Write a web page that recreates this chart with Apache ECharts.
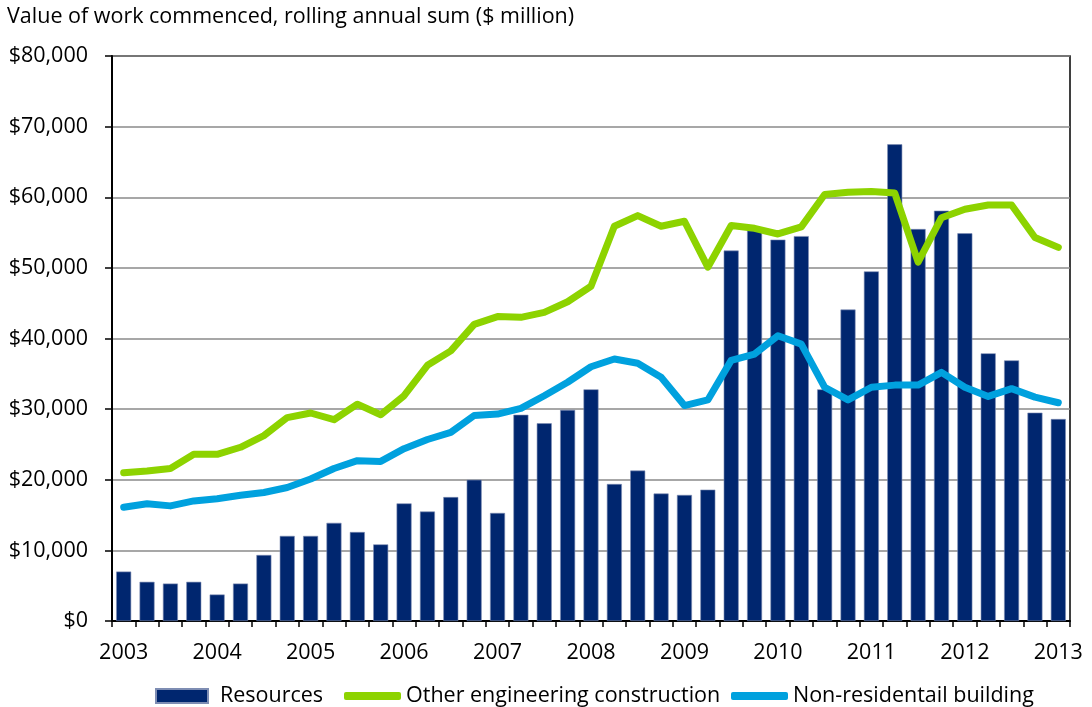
<!DOCTYPE html>
<html>
<head>
<meta charset="utf-8">
<script src="https://cdn.jsdelivr.net/npm/echarts@6/dist/echarts.min.js"></script>
<style>
  html, body { margin: 0; padding: 0; background: #fff; }
  #chart { width: 1092px; height: 707px; }
</style>
</head>
<body>
<div id="chart"></div>
<script>
// Quarterly categories, 2003 Q1 .. 2013 Q1
const categories = [];
for (let y = 2003; y <= 2013; y++) {
  for (let q = 1; q <= 4; q++) {
    if (y === 2013 && q > 1) break;
    categories.push(y + '-Q' + q);
  }
}
const yearLabels = ['2003','2004','2005','2006','2007','2008','2009','2010','2011','2012','2013'];

const resources = [
  7000, 5550, 5300, 5550, 3750, 5300, 9350, 12050, 12050, 13900,
  12600, 10850, 16650, 15500, 17550, 20000, 15300, 29200, 28000, 29900,
  32800, 19400, 21300, 18050, 17850, 18600, 52450, 55300, 54000, 54500,
  32800, 44100, 49500, 67500, 55500, 58100, 54900, 37900, 36900, 29500,
  28600
];
const otherEngineering = [
  21000, 21250, 21600, 23600, 23600, 24600, 26250, 28800, 29450, 28500,
  30700, 29200, 31900, 36200, 38250, 42000, 43100, 43000, 43700, 45200,
  47400, 55900, 57400, 55900, 56600, 50100, 56000, 55600, 54800, 55800,
  60400, 60700, 60800, 60600, 50800, 57100, 58300, 58900, 58900, 54300,
  52900
];
const nonResidential = [
  16100, 16600, 16300, 17000, 17300, 17800, 18200, 18900, 20100, 21600,
  22700, 22600, 24400, 25700, 26700, 29100, 29300, 30100, 31900, 33800,
  36000, 37100, 36500, 34500, 30500, 31300, 36900, 37800, 40400, 39200,
  33100, 31300, 33100, 33400, 33400, 35200, 33100, 31800, 32900, 31700,
  30900
];

const FONT = "'Open Sans', 'Noto Sans', sans-serif";
const FS = 21.5;
const chart = echarts.init(document.getElementById('chart'), null, { renderer: 'canvas' });

chart.setOption({
  animation: false,
  backgroundColor: '#ffffff',
  textStyle: { fontFamily: FONT, color: '#000' },
  title: {
    text: 'Value of work commenced, rolling annual sum ($ million)',
    left: 7, top: 6, padding: 0,
    textStyle: { fontFamily: FONT, fontSize: FS, fontWeight: 'normal', color: '#000' }
  },
  grid: {
    left: 112, right: 22, top: 56, bottom: 86,
    show: true, borderColor: '#000', borderWidth: 1.5, backgroundColor: 'transparent'
  },
  legend: [
    {
      data: ['Resources'],
      left: 150, top: 680,
      itemWidth: 52, itemHeight: 14,
      icon: 'rect',
      textStyle: { fontFamily: FONT, fontSize: FS, color: '#000', padding: [0, 0, 0, 7] }
    },
    {
      data: ['Other engineering construction'],
      left: 339, top: 680,
      itemWidth: 57, itemHeight: 8,
      icon: 'roundRect',
      textStyle: { fontFamily: FONT, fontSize: FS, color: '#000' }
    },
    {
      data: ['Non-residentail building'],
      left: 726, top: 680,
      itemWidth: 57, itemHeight: 8,
      icon: 'roundRect',
      textStyle: { fontFamily: FONT, fontSize: FS, color: '#000' }
    }
  ],
  xAxis: {
    type: 'category',
    data: categories,
    boundaryGap: true,
    axisLine: { lineStyle: { color: '#000', width: 2 } },
    axisTick: { show: true, interval: 0, length: 6, lineStyle: { color: '#000', width: 1.5 } },
    axisLabel: {
      interval: 3,
      margin: 21,
      fontFamily: FONT, fontSize: FS, color: '#000',
      formatter: function (v) { return yearLabels[categories.indexOf(v) / 4] || ''; }
    },
    splitLine: { show: false }
  },
  yAxis: {
    type: 'value',
    min: 0, max: 80000, interval: 10000,
    axisLine: { show: true, lineStyle: { color: '#000', width: 2 } },
    axisTick: { show: true, length: 7, lineStyle: { color: '#000', width: 1.5 } },
    axisLabel: {
      margin: 24,
      fontFamily: FONT, fontSize: FS, color: '#000',
      formatter: function (v) { return '$' + v.toLocaleString('en-US'); }
    },
    splitLine: { show: true, lineStyle: { color: '#8a8a8a', width: 1.5 } }
  },
  series: [
    {
      name: 'Resources',
      type: 'bar',
      data: resources,
      barWidth: 15,
      itemStyle: { color: '#00266f', borderColor: '#7e8db3', borderWidth: 0.6 }
    },
    {
      name: 'Other engineering construction',
      type: 'line',
      data: otherEngineering,
      showSymbol: false, symbol: 'none',
      itemStyle: { color: '#8dd300' },
      lineStyle: { color: '#8dd300', width: 7, cap: 'round', join: 'round' }
    },
    {
      name: 'Non-residentail building',
      type: 'line',
      data: nonResidential,
      showSymbol: false, symbol: 'none',
      itemStyle: { color: '#00a1de' },
      lineStyle: { color: '#00a1de', width: 7, cap: 'round', join: 'round' }
    }
  ]
});
</script>
</body>
</html>
